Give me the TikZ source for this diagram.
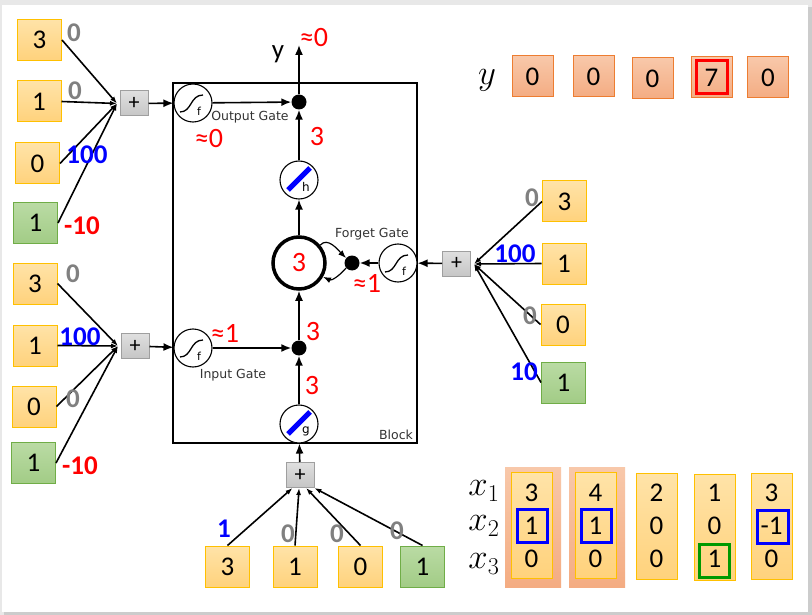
\documentclass[tikz,border=0pt]{standalone}
\usepackage{fontspec}
\setmainfont{Carlito}
\newfontfamily\gatefont{DejaVu Sans}
\usetikzlibrary{arrows.meta}

\definecolor{yelltop}{HTML}{FFE3A8}
\definecolor{yellbot}{HTML}{FFD27C}
\definecolor{yelledge}{HTML}{FFC000}
\definecolor{greentop}{HTML}{BADBA4}
\definecolor{greenbot}{HTML}{A2CC86}
\definecolor{greenedge}{HTML}{70AD47}
\definecolor{salmtop}{HTML}{F8C8AA}
\definecolor{salmbot}{HTML}{F4AC82}
\definecolor{salmedge}{HTML}{ED7D31}
\definecolor{weightgray}{HTML}{808080}

\newcommand\bigmath[1]{\scalebox{1.4}{\fontsize{24}{24}\selectfont$#1$}}

\tikzset{
  inbox/.style={draw=yelledge, line width=1pt, top color=yelltop, bottom color=yellbot,
    minimum width=44pt, minimum height=41pt, inner sep=0pt, font=\fontsize{27}{27}\selectfont},
  biasbox/.style={inbox, draw=greenedge, top color=greentop, bottom color=greenbot},
  outbox/.style={inbox, draw=salmedge, top color=salmtop, bottom color=salmbot, minimum width=41pt},
  sumbox/.style={draw=gray!75, line width=1pt, top color=gray!25, bottom color=gray!45,
    minimum width=28pt, minimum height=25pt, inner sep=0pt, font=\fontsize{22}{22}\selectfont},
  gate/.style={circle, draw, line width=1.1pt, minimum size=38pt, inner sep=0pt, fill=white},
  mult/.style={circle, fill, minimum size=15pt, inner sep=0pt},
  weight/.style={font=\bfseries\fontsize{27}{27}\selectfont},
  val/.style={text=red, font=\fontsize{28}{28}\selectfont},
  gatename/.style={font=\gatefont\fontsize{12.5}{12.5}\selectfont, text=black!80},
  feed/.style={line width=1.6pt, -{Latex[length=7pt,width=5pt]}},
  flow/.style={line width=1.6pt, -{Latex[length=10pt,width=8pt]}},
  mark box/.style={draw=#1, line width=3pt, minimum width=30pt, minimum height=33pt, inner sep=0pt},
  sig/.pic={
    \draw[line width=1.3pt] (-13,9) .. controls (-1,9) and (-3,-8) .. (10,-8);
    \node[font=\gatefont\fontsize{11}{11}\selectfont] at (6,8) {f};
  },
  squash/.pic={
    \draw[blue, line width=5pt] (-11,10) -- (11,-12);
    \node[font=\gatefont\fontsize{12}{12}\selectfont] at (7,7) {#1};
  }
}

\begin{document}
\begin{tikzpicture}[x=1pt,y=-1pt]
  % page frame
  \useasboundingbox (0,0) rectangle (812,615);
  \fill[gray!18] (0,0) rectangle (812,615);
  \fill[gray!40] (4,7) rectangle (812,615);
  \fill[white] (2,5) rectangle (808,612);

  % the memory block
  \draw[line width=1.8pt] (173,83) rectangle (417,443);
  \node[gatename] (blk) at (396,435) {Block};

  % gates, cell and products
  \node[gate] (og) at (193,103) {};
  \pic at (og.center) {sig};
  \node[gate] (ig) at (193,348) {};
  \pic at (ig.center) {sig};
  \node[gate] (fg) at (398,263) {};
  \pic at (fg.center) {sig};
  \node[gate] (hc) at (299,180) {};
  \pic at (hc.center) {squash=h};
  \node[gate] (gc) at (299,424) {};
  \pic at (gc.center) {squash=g};
  \node[circle, draw, line width=3.5pt, minimum size=52pt, inner sep=0pt] (cell) at (299,263) {};
  \node[mult] (om) at (299,102) {};
  \node[mult] (im) at (299,348) {};
  \node[mult] (fm) at (352,263) {};
  \coordinate (yout) at (299,45);

  \draw[flow] (og) -- (om);
  \draw[flow] (ig) -- (im);
  \draw[flow] (fg) -- (fm);
  \draw[flow] (gc) -- (im);
  \draw[flow] (im) -- (cell);
  \draw[flow] (cell) -- (hc);
  \draw[flow] (hc) -- (om);
  \draw[flow] (om) -- (yout);
  \draw[line width=1.2pt, -{Latex[length=8pt,width=6pt]}] (cell.40) to[out=50, in=135] (fm.140);
  \draw[line width=1.2pt, -{Latex[length=8pt,width=6pt]}] (fm.220) to[out=-130, in=-25] (cell.-30);

  \node[gatename] at (250,117) {Output Gate};
  \node[gatename] at (233,375) {Input Gate};
  \node[gatename] at (372,234) {Forget Gate};
  \node[font=\fontsize{27}{27}\selectfont] at (278,54) {y};
  \node[val] at (314,38) {≈0};
  \node[val] at (209,139) {≈0};
  \node[val] at (317,137) {3};
  \node[val] at (cell) {3};
  \node[val] at (367,283) {≈1};
  \node[val] at (225,333) {≈1};
  \node[val] at (313,332) {3};
  \node[val] at (312,386) {3};

  % output gate inputs
  \node[inbox] (o1) at (39.5,40) {3};
  \node[inbox] (o2) at (39,101.5) {1};
  \node[inbox] (o3) at (37.5,163.5) {0};
  \node[biasbox] (o4) at (35.5,223) {1};
  \node[sumbox] (os) at (134,103.5) {+};
  \coordinate (oj) at (117,103.5);
  \foreach \b in {o1,o2,o3,o4} \draw[feed] (\b.east) -- (oj);
  \draw[flow] (os) -- (og);
  \node[weight, text=weightgray] at (74,33) {0};
  \node[weight, text=weightgray] at (75,91) {0};
  \node[weight, text=blue] at (87,155) {100};
  \node[weight, text=red] at (82,226) {-10};

  % input gate inputs
  \node[inbox] (i1) at (35,283.5) {3};
  \node[inbox] (i2) at (35,345.5) {1};
  \node[inbox] (i3) at (34,406.5) {0};
  \node[biasbox] (i4) at (33.5,463) {1};
  \node[sumbox] (is) at (135,346) {+};
  \coordinate (ij) at (118,346);
  \foreach \b in {i1,i2,i3,i4} \draw[feed] (\b.east) -- (ij);
  \draw[flow] (is) -- (ig);
  \node[weight, text=weightgray] at (73,274) {0};
  \node[weight, text=blue] at (80,337) {100};
  \node[weight, text=weightgray] at (73,399) {0};
  \node[weight, text=red] at (80,466) {-10};

  % forget gate inputs
  \node[inbox] (f1) at (564.5,201.5) {3};
  \node[inbox] (f2) at (564,263.5) {1};
  \node[inbox] (f3) at (563,324.5) {0};
  \node[biasbox] (f4) at (563.5,382.5) {1};
  \node[sumbox] (fs) at (456.5,263.5) {+};
  \coordinate (fj) at (474,264);
  \foreach \b in {f1,f2,f3,f4} \draw[feed] (\b.west) -- (fj);
  \draw[flow] (fs) -- (fg);
  \node[weight, text=weightgray] at (532,198) {0};
  \node[weight, text=blue] at (515,254) {100};
  \node[weight, text=weightgray] at (530,316) {0};
  \node[weight, text=blue] at (524,372) {10};

  % cell input
  \node[inbox] (g1) at (227.5,566.5) {3};
  \node[inbox] (g2) at (295,566.5) {1};
  \node[inbox] (g3) at (360.5,566.5) {0};
  \node[biasbox] (g4) at (422.5,566.5) {1};
  \node[sumbox] (gs) at (300,475) {+};
  \draw[feed] (g1.north) -- (gs.240);
  \draw[feed] (g2.north) -- (gs.266);
  \draw[feed] (g3.north) -- (gs.295);
  \draw[feed] (g4.north) -- (gs.318);
  \draw[flow] (gs) -- (gc);
  \node[weight, text=blue] at (224,529) {1};
  \node[weight, text=weightgray] at (288,534) {0};
  \node[weight, text=weightgray] at (337,534) {0};
  \node[weight, text=weightgray] at (397,531) {0};

  % target sequence
  \node (ylab) at (487,80) {\bigmath{y}};
  \node[outbox] (y1) at (532.5,76.5) {0};
  \node[outbox] (y2) at (593.5,76.5) {0};
  \node[outbox] (y3) at (652.5,78.5) {0};
  \node[outbox] (y4) at (711.5,77.5) {7};
  \node[outbox] (y5) at (768,77.5) {0};
  \node[mark box=red, minimum width=31pt] at (y4) {};

  % input sequence
  \node (xl1) at (484,491) {\bigmath{x_1}};
  \node (xl2) at (484,526) {\bigmath{x_2}};
  \node (xl3) at (484,564) {\bigmath{x_3}};
  \fill[top color=salmtop, bottom color=salmbot] (505,467) rectangle (561,587);
  \fill[top color=salmtop, bottom color=salmbot] (569,467) rectangle (625,587);
  \foreach \i/\cx/\cy/\a/\b/\c in {1/531.5/525/3/1/0, 2/595.5/525/4/1/0, 3/656.5/526/2/0/0,
      4/714.5/527/1/0/1, 5/771.5/526.5/3/-1/0} {
    \node[inbox, minimum width=41pt, minimum height=106pt] (col\i) at (\cx,\cy) {};
    \node[font=\fontsize{27}{27}\selectfont] (c\i a) at (\cx,493) {\a};
    \node[font=\fontsize{27}{27}\selectfont] (c\i b) at (\cx,526) {\b};
    \node[font=\fontsize{27}{27}\selectfont] (c\i c) at (\cx,559) {\c};
  }
  \node[mark box=blue] at (532,525.5) {};
  \node[mark box=blue] at (596,525.5) {};
  \node[mark box=blue, minimum width=31pt] at (772.5,526.5) {};
  \node[mark box=green!60!black] at (714,560.5) {};
\end{tikzpicture}
\end{document}
